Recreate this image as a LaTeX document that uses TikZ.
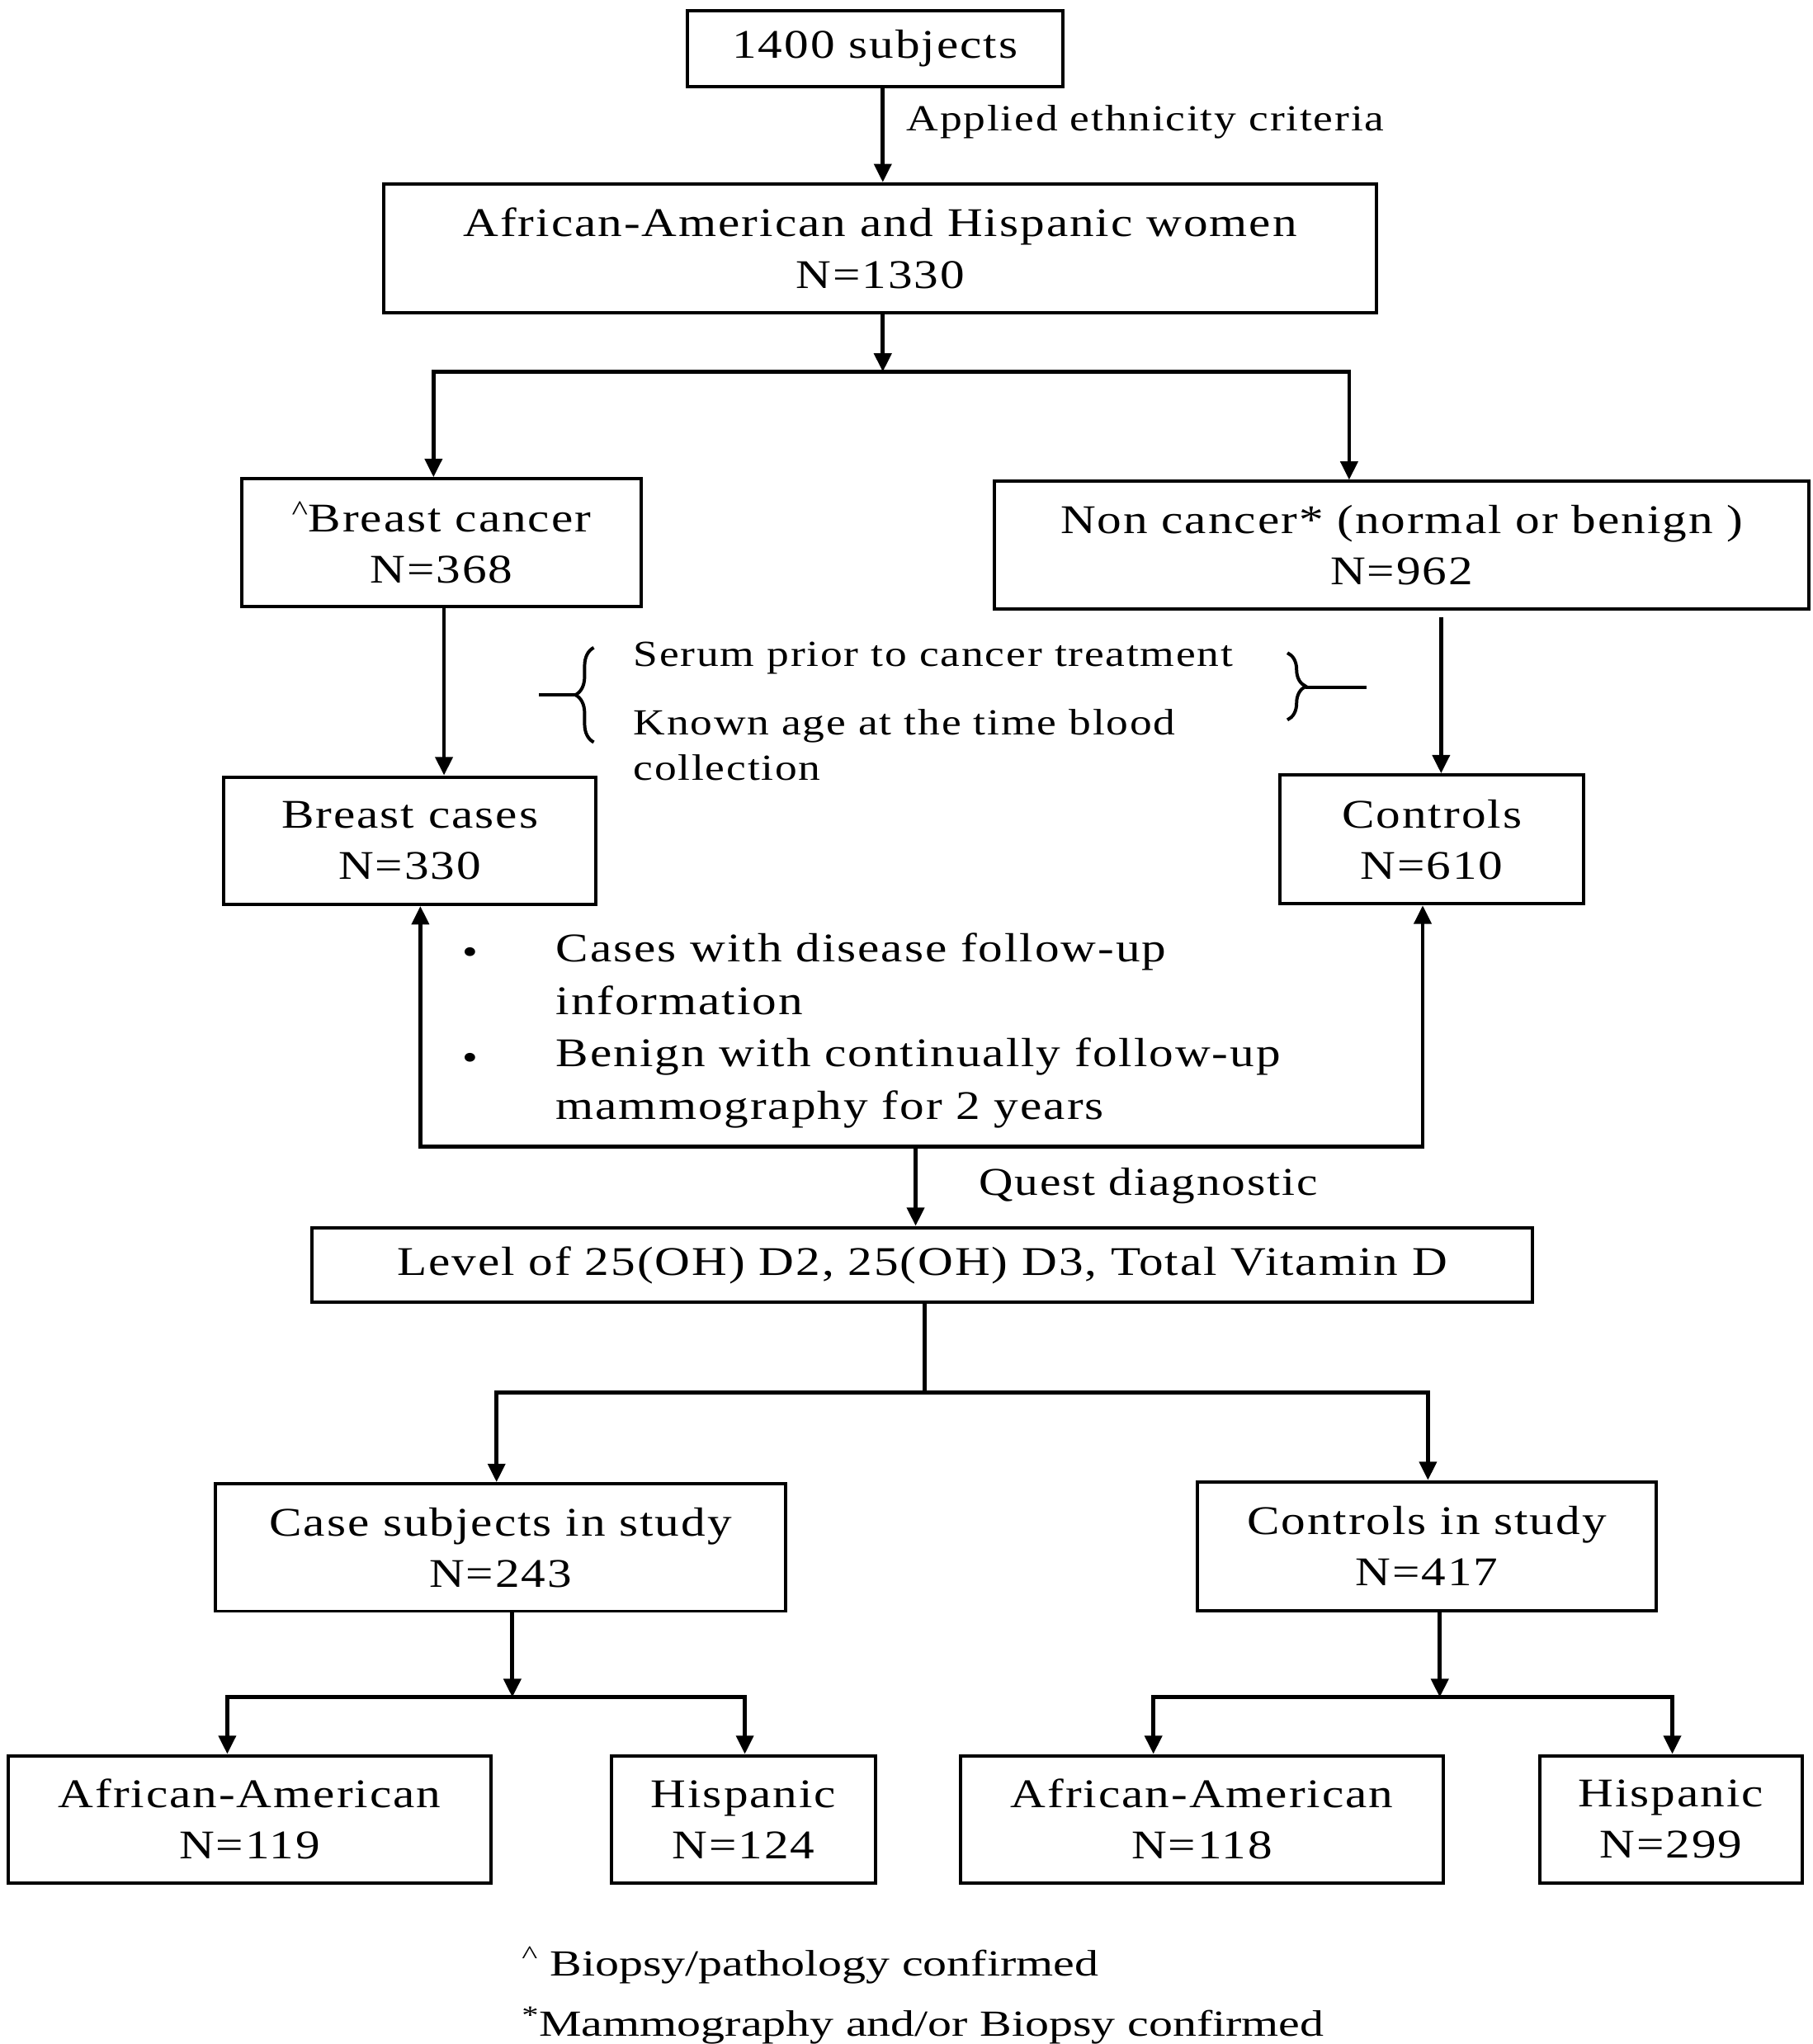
\documentclass[tikz,border=0pt]{standalone}
\usepackage{fontspec}
\setmainfont{Liberation Serif}[LetterSpace=4,FakeStretch=1.2]
\usetikzlibrary{arrows.meta,decorations.pathreplacing}
\begin{document}
\begin{tikzpicture}[x=1pt,y=-1pt,
  box/.style={draw,line width=2.5pt,align=center,font=\fontsize{31}{39}\selectfont,inner sep=0pt},
  lbl/.style={font=\fontsize{28}{34}\selectfont,anchor=west,inner sep=0pt},
  ln/.style={line width=3pt},
  ar/.style={line width=3pt,-{Triangle[length=14pt,width=13pt]}}]
\useasboundingbox (0,0) rectangle (1380,1556);
\node[box,minimum width=286pt,minimum height=58pt] (n1) at (666,37) {1400 subjects};
\node[box,minimum width=756pt,minimum height=98pt] (n2) at (670,189) {African-American and Hispanic women\\N=1330};
\node[box,minimum width=304pt,minimum height=97pt] (n3) at (336,413) {\textsuperscript{\^{}}Breast cancer\\N=368};
\node[box,minimum width=620pt,minimum height=97pt] (n4) at (1067,415) {Non cancer* (normal or benign )\\N=962};
\node[box,minimum width=283pt,minimum height=97pt] (n5) at (312,640) {Breast cases\\N=330};
\node[box,minimum width=231pt,minimum height=98pt] (n6) at (1090,639) {Controls\\N=610};
\node[box,minimum width=929pt,minimum height=57pt] (n7) at (702,963) {Level of 25(OH) D2, 25(OH) D3, Total Vitamin D};
\node[box,minimum width=434pt,minimum height=97pt] (n8) at (381,1178) {Case subjects in study\\N=243};
\node[box,minimum width=349pt,minimum height=98pt] (n9) at (1086,1177) {Controls in study\\N=417};
\node[box,minimum width=367pt,minimum height=97pt] (n10) at (190,1385) {African-American\\N=119};
\node[box,minimum width=201pt,minimum height=97pt] (n11) at (566,1385) {Hispanic\\N=124};
\node[box,minimum width=367pt,minimum height=97pt] (n12) at (915,1385) {African-American\\N=118};
\node[box,minimum width=200pt,minimum height=97pt] (n13) at (1272,1385) {Hispanic\\N=299};
% labels
\node[lbl] (t1) at (690,93) {Applied ethnicity criteria};
\node[lbl] (t2) at (482,501) {Serum prior to cancer treatment};
\node[lbl,align=left,anchor=north west] (t3) at (482,540) {Known age at the time blood\\collection};
\node[lbl] (b1) at (352,728) {•};
\node[lbl,align=left,anchor=north west,font=\fontsize{31}{40}\selectfont] (t4) at (423,710) {Cases with disease follow-up\\information};
\node[lbl] (b2) at (352,808) {•};
\node[lbl,align=left,anchor=north west,font=\fontsize{31}{40}\selectfont] (t5) at (423,790) {Benign with continually follow-up\\mammography for 2 years};
\node[lbl,font=\fontsize{30}{36}\selectfont] (t6) at (745,903) {Quest diagnostic};
\node[lbl,font=\fontsize{28}{34}\selectfont\addfontfeature{LetterSpace=0,FakeStretch=1.3}] (f1) at (397,1496) {\textsuperscript{\^{}} Biopsy/pathology confirmed};
\node[lbl,font=\fontsize{28}{34}\selectfont\addfontfeature{LetterSpace=0,FakeStretch=1.3}] (f2) at (397,1542) {\textsuperscript{*}Mammography and/or Biopsy confirmed};
% braces
\draw[line width=2.5pt,decorate,decoration={brace,amplitude=14pt}] (452,565) -- (452,493);
\draw[line width=2.5pt] (438,529) -- (410,529);
\draw[line width=2.5pt,decorate,decoration={brace,amplitude=14pt}] (980,497) -- (980,548);
\draw[line width=2.5pt] (994,523) -- (1040,523);
% connectors
\coordinate (j1) at (672,283);
\coordinate (j2) at (697,873);
\coordinate (j3) at (704,1060);
\coordinate (j4) at (390,1292);
\coordinate (j5) at (1096,1292);
\draw[ar] (n1.south -| 672,0) -- (n2.north -| 672,0);
\draw[ar] (n2.south -| 672,0) -- (j1);
\draw[ar] (j1) -| (n3.north -| 330,0);
\draw[ar] (j1) -| (n4.north -| 1027,0);
\draw[ar] (n3.south -| 338,0) -- (n5.north -| 338,0);
\draw[ar] (1097,470) -- (n6.north -| 1097,0);
\draw[ar] (j2) -| (n5.south -| 320,0);
\draw[ar] (j2) -| (n6.south -| 1083,0);
\draw[ar] (j2) -- (n7.north -| 697,0);
\draw[ln] (n7.south -| 704,0) -- (j3);
\draw[ar] (j3) -| (n8.north -| 378,0);
\draw[ar] (j3) -| (n9.north -| 1087,0);
\draw[ar] (n8.south -| 390,0) -- (j4);
\draw[ar] (j4) -| (n10.north -| 173,0);
\draw[ar] (j4) -| (n11.north -| 567,0);
\draw[ar] (n9.south -| 1096,0) -- (j5);
\draw[ar] (j5) -| (n12.north -| 878,0);
\draw[ar] (j5) -| (n13.north -| 1273,0);
\end{tikzpicture}
\end{document}
